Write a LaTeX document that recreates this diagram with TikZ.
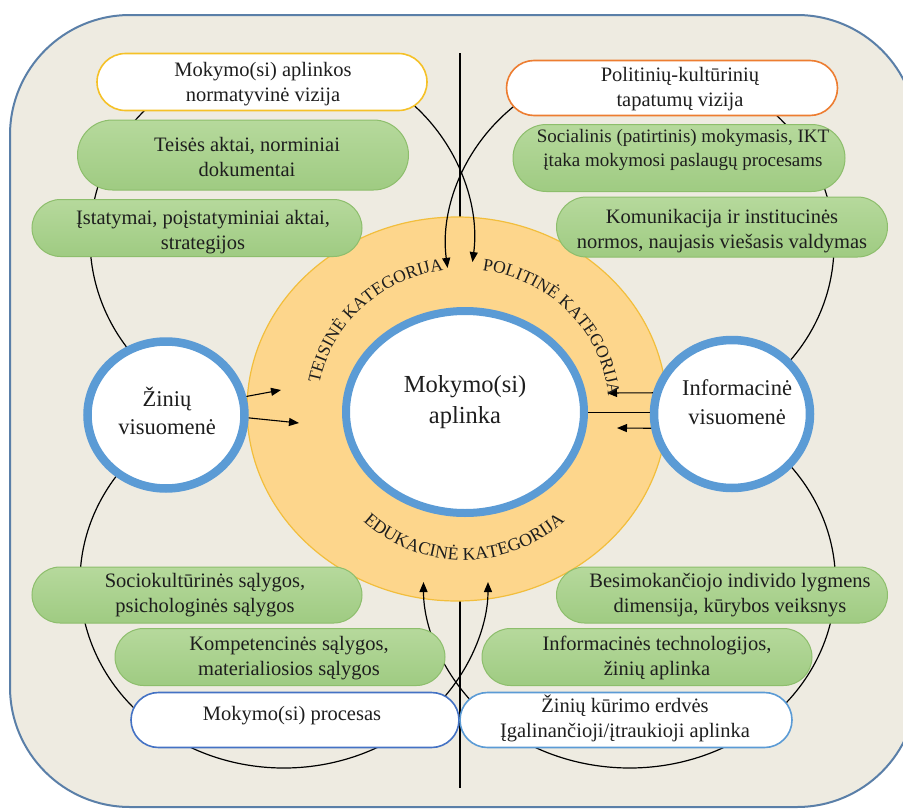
\documentclass[tikz,border=0pt]{standalone}
\usepackage{fontspec}
\setmainfont{Liberation Serif}
\usetikzlibrary{shapes.geometric,shapes.misc,arrows.meta,decorations.text,calc}
\definecolor{bgc}{HTML}{EEEBE1}
\definecolor{framec}{HTML}{5A7FA8}
\definecolor{orfill}{HTML}{FDD68C}
\definecolor{ordraw}{HTML}{F2BE3C}
\definecolor{ringc}{HTML}{5B9BD5}
\definecolor{gtop}{HTML}{B6D99C}
\definecolor{gbot}{HTML}{9FCB82}
\definecolor{gdraw}{HTML}{8DBE6C}
\definecolor{yelc}{HTML}{F5C127}
\definecolor{orgc}{HTML}{ED7D31}
\definecolor{bluec}{HTML}{4472C4}
\definecolor{lbluec}{HTML}{5B9BD5}
\definecolor{txtc}{HTML}{1E1E1E}
\newcommand\catfont{\fontsize{17.5}{17.5}\selectfont}
\newcommand\catfontb{\fontsize{18}{18}\selectfont}
\begin{document}
\begin{tikzpicture}[x=1pt,y=-1pt,
  pill/.style={rounded rectangle, minimum width=330pt, minimum height=57pt, inner sep=0pt},
  greenpill/.style={pill, top color=gtop, bottom color=gbot, draw=gdraw, line width=1pt},
  whitepill/.style={pill, fill=white, line width=1.6pt},
  txt/.style={align=center, text=txtc, font=\fontsize{20.5}{25}\selectfont, inner sep=0pt},
  ringnode/.style={ellipse, draw=ringc, fill=white, line width=8.5pt, inner sep=0pt},
  arcline/.style={line width=1.2pt, black},
  arrowend/.style={-{Triangle[length=10pt,width=8pt]}},
]
\useasboundingbox (0,0) rectangle (903,811);
\fill[white] (0,0) rectangle (903,811);
\draw[framec, fill=bgc, line width=2pt, rounded corners=120pt] (10,15) rectangle (917,807);

% axis line
\coordinate (vt) at (460,53);
\coordinate (vb) at (460,788);
\draw[line width=1.1pt] (vt) -- (vb);

% orange ring
\node[ellipse, fill=orfill, draw=ordraw, line width=1.2pt, minimum width=420pt, minimum height=384pt, inner sep=0pt] (oc) at (457,409) {};

% big arcs
\coordinate (e1) at (282,239);
\coordinate (e2) at (640,245);
\coordinate (e3) at (284,582);
\coordinate (e4) at (629.5,582);
\draw[arcline, arrowend] ($(e1)+(140:192 and 184)$) arc[start angle=140, end angle=367.2, x radius=192, y radius=184];
\draw[arcline, arrowend] ($(e2)+(42:194 and 182.5)$) arc[start angle=42, end angle=-187.2, x radius=194, y radius=182.5];
\draw[arcline, arrowend] ($(e3)+(216:204 and 186)$) arc[start angle=216, end angle=0, x radius=204, y radius=186];
\draw[arcline, arrowend] ($(e4)+(-40:206 and 186)$) arc[start angle=-40, end angle=180, x radius=206, y radius=186];

% centre
\node[ringnode, minimum width=238pt, minimum height=202pt, line width=8pt] (mc) at (465,412) {};
\node[txt, font=\fontsize{24.5}{31}\selectfont] (mct) at (465,402) {Mokymo(si)\\aplinka};

% side circles
\node[ringnode, minimum width=157pt, minimum height=147pt] (zc) at (166,415) {};
\node[txt, font=\fontsize{22.5}{28}\selectfont] (zct) at (167,411) {Žinių\\visuomenė};
\node[ringnode, minimum width=156pt, minimum height=148pt] (ic) at (732,414) {};
\node[txt, font=\fontsize{22.5}{29}\selectfont] (ict) at (737,402) {Informacinė\\visuomenė};

\draw[line width=1pt] (mc.east) -- (mc.east -| ic.west);

% side arrows
\coordinate (za) at (281,390);
\coordinate (zb) at (299,423);
\coordinate (ia) at (607,393);
\coordinate (ib) at (617,428);
\draw[line width=1.1pt, arrowend] (zc.13) -- (za);
\draw[line width=1.1pt, arrowend] (zc.358) -- (zb);
\draw[line width=1.1pt, arrowend] (ic.165) -- (ia);
\draw[line width=1.1pt, arrowend] (ic.190) -- (ib);

% boxes
\node[whitepill, draw=yelc, minimum height=57pt] (b1) at (262,82) {};
\node[txt] (t1) at (263,84) {Mokymo(si) aplinkos\\normatyvinė vizija};
\node[greenpill, minimum width=331pt, minimum height=70pt] (b2) at (243,155) {};
\node[txt] (t2) at (247,157) {Teisės aktai, norminiai\\dokumentai};
\node[greenpill] (b3) at (197,228) {};
\node[txt] (t3) at (203,232) {Įstatymai, poįstatyminiai aktai,\\strategijos};
\node[whitepill, draw=orgc, minimum width=331pt, minimum height=55pt] (b4) at (672,88) {};
\node[txt] (t4) at (680,89) {Politinių-kultūrinių\\tapatumų vizija};
\node[greenpill, minimum width=332pt, minimum height=67pt] (b5) at (679,158) {};
\node[txt, font=\fontsize{19}{24}\selectfont] (t5) at (683,150) {Socialinis (patirtinis) mokymasis, IKT\\įtaka mokymosi paslaugų procesams};
\node[greenpill, minimum width=331pt, minimum height=60pt] (b6) at (722,227) {};
\node[txt] (t6) at (722,231) {Komunikacija ir institucinės\\normos, naujasis viešasis valdymas};
\node[greenpill, minimum height=56pt] (b7) at (197,595) {};
\node[txt] (t7) at (205,595) {Sociokultūrinės sąlygos,\\psichologinės sąlygos};
\node[greenpill] (b8) at (280,657) {};
\node[txt] (t8) at (289,658) {Kompetencinės sąlygos,\\materialiosios sąlygos};
\node[whitepill, draw=bluec, minimum width=328pt, minimum height=55pt] (b9) at (295,720) {};
\node[txt] (t9) at (292,716) {Mokymo(si) procesas};
\node[greenpill, minimum width=331pt, minimum height=56pt] (b10) at (722,595) {};
\node[txt] (t10) at (730,595) {Besimokančiojo individo lygmens\\dimensija, kūrybos veiksnys};
\node[greenpill] (b11) at (647,657) {};
\node[txt] (t11) at (657,658) {Informacinės technologijos,\\žinių aplinka};
\node[whitepill, draw=lbluec, minimum width=332pt, minimum height=55pt] (b12) at (626,720) {};
\node[txt] (t12) at (625,718) {Žinių kūrimo erdvės\\Įgalinančioji/įtraukioji aplinka};

% curved category labels
\coordinate (tc) at (463,410);
\coordinate (tcb) at (464,410);
\path[decorate, decoration={text along path, text align=center, text color=txtc, text={|\catfont|TEISINĖ KATEGORIJA}}]
  ($(tc)+(189:146 and 141)$) arc[start angle=189, end angle=264, x radius=146, y radius=141];
\path[decorate, decoration={text along path, text align=center, text color=txtc, text={|\catfont|POLITINĖ KATEGORIJA}}]
  ($(tc)+(278:146 and 141)$) arc[start angle=278, end angle=354, x radius=146, y radius=141];
\path[decorate, decoration={text along path, text align=center, text color=txtc, text={|\catfontb|EDUKACINĖ KATEGORIJA}}]
  ($(tcb)+(135:150 and 150)$) arc[start angle=135, end angle=45, x radius=150, y radius=150];
\end{tikzpicture}
\end{document}
